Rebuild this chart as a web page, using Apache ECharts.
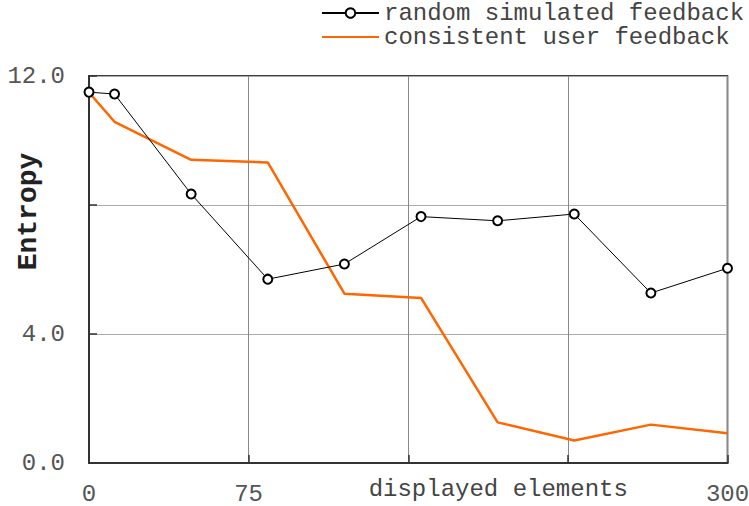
<!DOCTYPE html>
<html>
<head>
<meta charset="utf-8">
<script src="https://cdn.jsdelivr.net/npm/echarts@6/dist/echarts.min.js"></script>
<style>html,body{margin:0;padding:0;background:#fff;}#c{width:749px;height:506px;}</style>
</head>
<body>
<div id="c"></div>
<script>
var xValues = [0, 12, 48, 84, 120, 156, 192, 228, 264, 300];
var randomFeedback = [11.50, 11.44, 8.34, 5.70, 6.17, 7.64, 7.51, 7.72, 5.27, 6.04];
var consistentFeedback = [11.49, 10.58, 9.40, 9.32, 5.25, 5.12, 1.26, 0.70, 1.19, 0.92];
var xTickLabels = {0: '0', 75: '75', 300: '300'};
var yTickLabels = {0: '0.0', 4: '4.0', 12: '12.0'};
var seriesNames = ['random simulated feedback', 'consistent user feedback'];

function pairs(xs, ys) { return xs.map(function (x, i) { return [x, ys[i]]; }); }

var FONT = 'Liberation Mono';
var chart = echarts.init(document.getElementById('c'), null, {renderer: 'svg'});
chart.setOption({
  animation: false,
  backgroundColor: '#fff',
  grid: {left: 89, right: 21.5, top: 76, bottom: 43, containLabel: false, outerBoundsMode: 'none',
    show: true, borderColor: '#000', borderWidth: 1.5, backgroundColor: 'transparent'},
  legend: {
    orient: 'vertical', left: 321, top: 1, padding: 0, itemWidth: 57, itemHeight: 12, itemGap: 0,
    textStyle: {fontFamily: FONT, fontSize: 24, color: '#444', lineHeight: 24},
    data: [{name: seriesNames[0]}, {name: seriesNames[1], itemStyle: {opacity: 0}}]
  },
  xAxis: {
    type: 'value', min: 0, max: 300, interval: 75,
    name: 'displayed elements', nameLocation: 'middle', nameGap: 14, nameMoveOverlap: false,
    nameTextStyle: {fontFamily: FONT, fontSize: 24, color: '#444', padding: [0, 0, 0, 180]},
    axisLine: {show: true, lineStyle: {color: '#333', width: 2}},
    axisTick: {show: true, inside: true, length: 8, lineStyle: {color: '#333', width: 1.5}},
    axisLabel: {fontFamily: FONT, fontSize: 24, color: '#555', margin: 22, lineHeight: 18,
      formatter: function (v) { return xTickLabels[v] !== undefined ? xTickLabels[v] : ''; }},
    splitLine: {show: true, lineStyle: {color: '#888', width: 1}}
  },
  yAxis: {
    type: 'value', min: 0, max: 12, interval: 4,
    name: 'Entropy', nameLocation: 'middle', nameGap: 47, nameRotate: 90, nameMoveOverlap: false,
    nameTextStyle: {fontFamily: FONT, fontSize: 28, fontWeight: 'bold', color: '#222', padding: [0, 0, 0, 116]},
    axisLine: {show: true, lineStyle: {color: '#333', width: 2}},
    axisTick: {show: true, inside: true, length: 8, lineStyle: {color: '#333', width: 1.5}},
    axisLabel: {fontFamily: FONT, fontSize: 24, color: '#555', margin: 24,
      formatter: function (v) { return yTickLabels[v] !== undefined ? yTickLabels[v] : ''; }},
    splitLine: {show: true, lineStyle: {color: '#aaa', width: 1}}
  },
  series: [
    {
      name: seriesNames[0], type: 'line', data: pairs(xValues, randomFeedback),
      symbol: 'circle', symbolSize: 9, showSymbol: true,
      lineStyle: {color: '#000', width: 1},
      itemStyle: {color: '#fff', borderColor: '#000', borderWidth: 2},
      z: 3
    },
    {
      name: seriesNames[1], type: 'line', data: pairs(xValues, consistentFeedback),
      symbol: 'none', showSymbol: false,
      lineStyle: {color: '#ff6600', width: 2.5},
      itemStyle: {color: '#ff6600'},
      z: 2
    }
  ]
});
</script>
</body>
</html>
